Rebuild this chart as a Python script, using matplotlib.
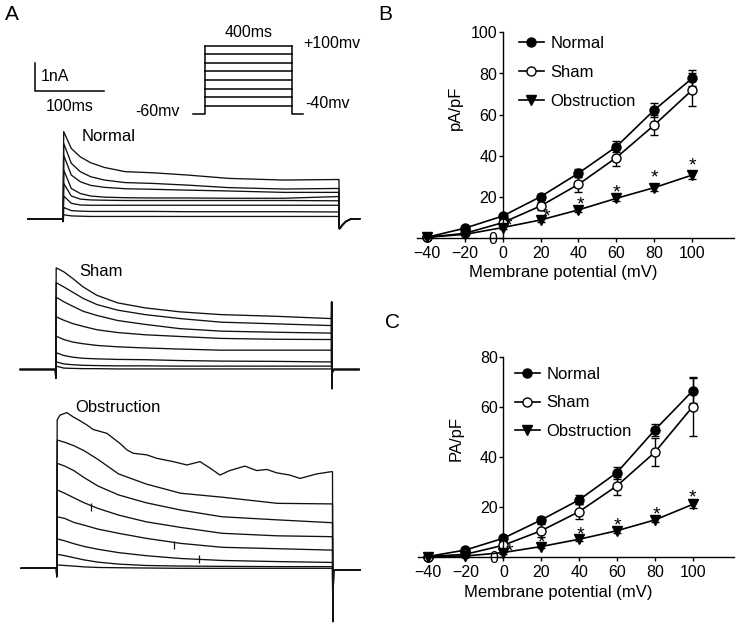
import matplotlib.pyplot as plt
from matplotlib.transforms import offset_copy

plt.rcParams['font.family'] = ['Liberation Sans', 'DejaVu Sans']

W, H = 736, 627

# ---- panel A: current traces (nA) sampled at these times (ms) after pulse onset
TRACE_T = [1, 12, 25, 40, 60, 90, 130, 180, 240, 320, 398]

normal_traces = [
    [3.11, 2.51, 2.21, 2.00, 1.83, 1.68, 1.64, 1.56, 1.44, 1.38, 1.40],
    [2.69, 1.98, 1.68, 1.50, 1.38, 1.29, 1.26, 1.20, 1.11, 1.06, 1.08],
    [2.27, 1.56, 1.32, 1.19, 1.12, 1.07, 1.05, 1.02, 0.99, 0.94, 0.94],
    [1.74, 1.08, 0.90, 0.81, 0.77, 0.75, 0.74, 0.74, 0.73, 0.73, 0.79],
    [1.26, 0.81, 0.70, 0.67, 0.66, 0.65, 0.65, 0.65, 0.65, 0.65, 0.64],
    [0.81, 0.55, 0.49, 0.48, 0.48, 0.48, 0.48, 0.48, 0.48, 0.48, 0.48],
    [0.40, 0.29, 0.27, 0.26, 0.26, 0.26, 0.26, 0.25, 0.25, 0.25, 0.24],
    [0.14, 0.10, 0.09, 0.08, 0.08, 0.08, 0.08, 0.08, 0.08, 0.08, 0.08],
]
sham_traces = [
    [3.63, 3.49, 3.25, 2.95, 2.65, 2.38, 2.20, 2.06, 1.96, 1.90, 1.82],
    [3.10, 2.95, 2.76, 2.54, 2.32, 2.12, 1.96, 1.82, 1.69, 1.63, 1.57],
    [2.58, 2.42, 2.26, 2.08, 1.93, 1.75, 1.61, 1.46, 1.37, 1.33, 1.30],
    [1.88, 1.76, 1.64, 1.54, 1.42, 1.32, 1.24, 1.18, 1.11, 1.08, 1.07],
    [1.19, 1.07, 0.98, 0.92, 0.86, 0.81, 0.77, 0.73, 0.69, 0.69, 0.69],
    [0.60, 0.50, 0.44, 0.40, 0.38, 0.36, 0.35, 0.32, 0.30, 0.29, 0.27],
    [0.27, 0.20, 0.17, 0.15, 0.14, 0.13, 0.13, 0.12, 0.12, 0.12, 0.12],
    [0.12, 0.05, 0.04, 0.03, 0.03, 0.02, 0.02, 0.02, 0.02, 0.02, 0.02],
]
obstruction_traces = [
    [4.58, 4.50, 4.38, 4.20, 3.89, 3.37, 3.01, 2.68, 2.54, 2.32, 2.30],
    [3.75, 3.65, 3.49, 3.24, 2.94, 2.62, 2.34, 2.08, 1.84, 1.73, 1.63],
    [2.80, 2.68, 2.52, 2.34, 2.14, 1.90, 1.66, 1.46, 1.25, 1.16, 1.13],
    [1.84, 1.78, 1.64, 1.54, 1.40, 1.25, 1.07, 0.89, 0.75, 0.70, 0.65],
    [1.05, 0.98, 0.88, 0.78, 0.68, 0.56, 0.45, 0.35, 0.28, 0.24, 0.21],
    [0.50, 0.45, 0.38, 0.30, 0.22, 0.15, 0.10, 0.08, 0.07, 0.06, 0.06],
    [0.12, 0.10, 0.08, 0.05, 0.03, 0.02, 0.01, 0.00, 0.00, 0.00, 0.00],
]
# the largest obstruction trace (+100 mV) is noisy, so it is read more densely
obstruction_top_t = [1, 5, 15, 24, 34, 44, 53, 73, 92, 102, 111, 131, 145, 169,
                     189, 208, 213, 223, 237, 251, 273, 290, 305, 319, 338, 353,
                     377, 398]
obstruction_top_i = [5.30, 5.47, 5.56, 5.41, 5.27, 5.12, 4.96, 4.82, 4.46, 4.23,
                     4.11, 4.05, 3.93, 3.81, 3.69, 3.81, 3.73, 3.57, 3.33, 3.49,
                     3.65, 3.49, 3.53, 3.41, 3.33, 3.21, 3.37, 3.45]

# transients at pulse onset / offset
normal_on, sham_on, obstruction_on = -0.1, -0.31, -0.3
normal_off_t = [400.3, 401.5, 404, 410, 418, 430]
normal_off_i = [-0.35, -0.35, -0.25, -0.1, 0, 0]
sham_off_t = [400.2, 400.5, 401.2, 403, 440]
sham_off_i = [2.41, -0.68, -0.1, 0, 0]
obstruction_off_t = [400.5, 401.5, 403, 440]
obstruction_off_i = [-1.9, -0.1, -0.05, -0.05]
# small artefact ticks on the obstruction traces
artefact_t = [50, 171, 207]
artefact_i = [2.2, 0.83, 0.32]

# voltage protocol
step_levels = [-40, -20, 0, 20, 40, 60, 80, 100]
holding = -60
step_ms = 400

# ---- panels B and C: current density (pA/pF)
voltages = [-40, -20, 0, 20, 40, 60, 80, 100]
b_normal = [0.5, 4.9, 10.8, 20.2, 31.6, 44.5, 62.3, 77.7]
b_normal_err = [0.3, 0.8, 1.0, 1.5, 2.0, 2.5, 3.3, 4.0]
b_sham = [0.5, 2.4, 7.6, 15.7, 26.2, 39.2, 55.0, 72.0]
b_sham_err = [0.3, 0.6, 1.2, 2.0, 3.5, 4.0, 5.0, 8.0]
b_obst = [0.5, 1.9, 5.2, 8.9, 13.8, 19.4, 24.6, 30.7]
b_obst_err = [0.2, 0.4, 0.6, 0.8, 1.0, 1.2, 1.5, 1.8]
b_star_x = [3, 23, 41, 60, 80, 100]
b_star_y = [7.6, 11.7, 17.8, 23.5, 30.7, 36.4]

c_normal = [0.3, 2.9, 7.6, 14.9, 22.9, 33.8, 50.8, 66.4]
c_normal_err = [0.2, 0.6, 1.0, 1.2, 1.8, 2.4, 2.4, 5.0]
c_sham = [0.3, 1.2, 4.8, 10.6, 18.2, 28.5, 41.9, 60.1]
c_sham_err = [0.2, 0.5, 1.0, 2.5, 3.0, 3.5, 5.6, 11.7]
c_obst = [0.3, 0.5, 1.9, 4.3, 7.2, 10.6, 14.9, 21.1]
c_obst_err = [0.1, 0.2, 0.4, 0.6, 0.8, 1.0, 1.0, 1.5]
c_star_x = [3.5, 20, 40.7, 60, 81, 100]
c_star_y = [3.2, 6.9, 10.2, 13.6, 18.2, 24.9]

fig = plt.figure(figsize=(W / 100, H / 100), dpi=100)


def add_axes_px(left, top, width, height):
    ax = fig.add_axes([left / W, 1 - (top + height) / H, width / W, height / H])
    ax.patch.set_alpha(0)
    return ax


PX_MS = 0.69   # px per ms in the traces
PX_NA = 28.0   # px per nA
TRACE_COLOR = '#111111'


def draw_trace(ax, times, vals, on_dip, off_t, off_i):
    t = [-51, 0, 0.3] + times + [400] + off_t
    i = [0, 0, on_dip] + vals + [vals[-1]] + off_i
    ax.plot(t, i, color=TRACE_COLOR, lw=0.95, clip_on=False)


def trace_panel(x0, base, traces, on_dip, off_t, off_i, label, label_pos):
    t_lo, t_hi, i_lo, i_hi = -60, 460, -2.2, 5.8
    ax = add_axes_px(x0 + t_lo * PX_MS, base - i_hi * PX_NA,
                     (t_hi - t_lo) * PX_MS, (i_hi - i_lo) * PX_NA)
    ax.set_xlim(t_lo, t_hi)
    ax.set_ylim(i_lo, i_hi)
    ax.axis('off')
    for vals in traces:
        draw_trace(ax, TRACE_T, vals, on_dip, off_t, off_i)
    ax.text(*label_pos, label, fontsize=12, ha='left', va='center')
    return ax


ax_n = trace_panel(63, 218.7, normal_traces, normal_on, normal_off_t, normal_off_i,
                   'Normal', (27, 2.92))
ax_s = trace_panel(55.5, 369.5, sham_traces, sham_on, sham_off_t, sham_off_i,
                   'Sham', (34, 3.49))
ax_o = trace_panel(56.5, 568.3, obstruction_traces, obstruction_on,
                   obstruction_off_t, obstruction_off_i, 'Obstruction', (27, 5.75))
draw_trace(ax_o, obstruction_top_t, obstruction_top_i, obstruction_on,
           obstruction_off_t, obstruction_off_i)
ax_o.plot(artefact_t, artefact_i, ls='none', marker='|', ms=6, mew=0.9, color=TRACE_COLOR)

# scale bar (in Normal trace coordinates)
ax_n.plot([-40.6, -40.6, 59.4], [5.57, 4.57, 4.57], color='black', lw=1.1, clip_on=False)
ax_n.text(-32, 5.07, '1nA', fontsize=11.5, ha='left', va='center')
ax_n.text(9, 4.02, '100ms', fontsize=11.5, ha='center', va='center')

# voltage protocol
PX_PMS = 0.2183
PX_MV = 0.4286
ax_p = add_axes_px(205 - 60 * PX_PMS, 45.7 - 10 * PX_MV, 520 * PX_PMS, 180 * PX_MV)
ax_p.set_xlim(-60, 460)
ax_p.set_ylim(-70, 110)
ax_p.axis('off')
for lev in step_levels:
    ax_p.plot([0, step_ms], [lev, lev], color='black', lw=1.1)
ax_p.plot([-54, 0, 0], [holding, holding, max(step_levels)], color='black', lw=1.1)
ax_p.plot([step_ms, step_ms, step_ms + 50], [max(step_levels), holding, holding],
          color='black', lw=1.1)
ax_p.text(step_ms / 2, 130, '400ms', fontsize=11.5, ha='center', va='center')
ax_p.text(449, 106, '+100mv', fontsize=11.5, ha='left', va='center')
ax_p.text(458, -34, '-40mv', fontsize=11.5, ha='left', va='center')
ax_p.text(-114, -54, '-60mv', fontsize=11.5, ha='right', va='center')


def iv_panel(box, ylim, yticks, data, stars, ylabel, ylab_pos, xlab_pos, leg_anchor):
    ax = add_axes_px(*box)
    ax.set_xlim(-45, 122)
    ax.set_ylim(*ylim)
    styles = [('Normal', 'o', 'black', 6.5), ('Sham', 'o', 'white', 6.5),
              ('Obstruction', 'v', 'black', 7)]
    handles = []
    for (name, mk, fc, ms), (vals, errs) in zip(styles, data):
        ax.errorbar(voltages, vals, yerr=errs, fmt='none', ecolor='black',
                    elinewidth=1, capsize=3, capthick=1, clip_on=False)
        h, = ax.plot(voltages, vals, color='black', lw=1.2, marker=mk, mfc=fc,
                     mec='black', mew=1, ms=ms, clip_on=False, label=name)
        handles.append(h)
    # the '*' glyph sits high in its box, so nudge it down a few pixels
    star_tr = offset_copy(ax.transData, fig=fig, y=-3, units='dots')
    for x, y in zip(*stars):
        ax.text(x, y, '*', fontsize=14, ha='center', va='center', transform=star_tr)
    ax.spines['left'].set_position(('data', 0))
    ax.spines['right'].set_visible(False)
    ax.spines['top'].set_visible(False)
    for s in ('left', 'bottom'):
        ax.spines[s].set_linewidth(1.0)
    ax.set_xticks(voltages)
    ax.set_yticks(yticks)
    ax.tick_params(axis='y', direction='out', length=2.8, width=1, pad=1.2, labelsize=11.5)
    ax.tick_params(axis='x', direction='out', length=2.9, width=1, pad=3, labelsize=11.5)
    ax.text(*ylab_pos, ylabel, rotation=90, fontsize=12, ha='center', va='center',
            transform=ax.transAxes)
    ax.text(*xlab_pos, 'Membrane potential (mV)', fontsize=12, ha='center',
            va='center', transform=ax.transAxes)
    ax.legend(handles=handles, loc='upper left', bbox_to_anchor=leg_anchor,
              frameon=False, fontsize=12, handlelength=1.5, handletextpad=0.4,
              labelspacing=0.83, borderpad=0, borderaxespad=0)
    return ax


iv_panel((417.4, 32.3, 316.5, 206.0), (0, 100), [0, 20, 40, 60, 80, 100],
         [(b_normal, b_normal_err), (b_sham, b_sham_err), (b_obst, b_obst_err)],
         (b_star_x, b_star_y), 'pA/pF', (0.12, 0.633), (0.46, -0.167), (0.321, 0.982))
iv_panel((418.1, 356.7, 316.3, 200.6), (0, 80), [0, 20, 40, 60, 80],
         [(c_normal, c_normal_err), (c_sham, c_sham_err), (c_obst, c_obst_err)],
         (c_star_x, c_star_y), 'PA/pF', (0.121, 0.59), (0.442, -0.1765), (0.306, 0.951))

fig.text(12 / W, 1 - 15 / H, 'A', fontsize=15, ha='center', va='center')
fig.text(385 / W, 1 - 15 / H, 'B', fontsize=15, ha='center', va='center')
fig.text(392 / W, 1 - 323 / H, 'C', fontsize=15, ha='center', va='center')

fig.savefig('out.png', dpi=100)
